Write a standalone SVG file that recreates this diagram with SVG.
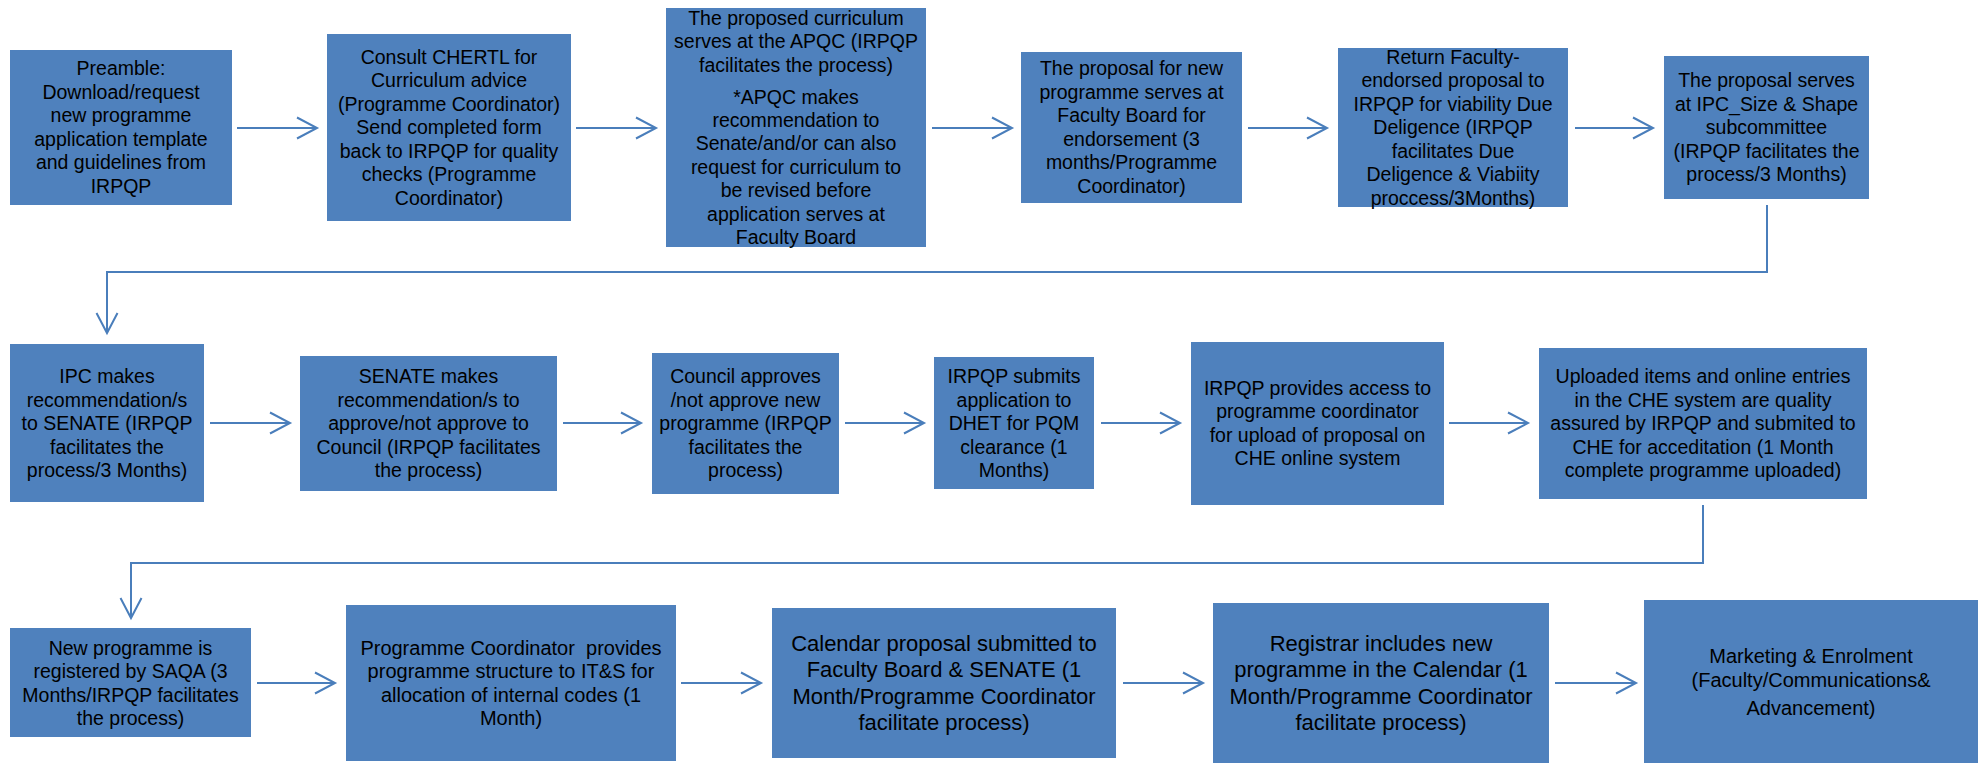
<svg xmlns="http://www.w3.org/2000/svg" width="1979" height="763" viewBox="0 0 1979 763">
<style>
.box{fill:#4F81BD;}
.t{font-family:"Liberation Sans",Arial,sans-serif;font-size:19.5px;fill:#000;text-anchor:middle;}
.t22{font-size:22px;}
.t20{font-size:20px;}
.c{fill:none;stroke:#4A7EBB;stroke-width:2;}
</style>
<defs>
<marker id="ah" markerUnits="userSpaceOnUse" markerWidth="30" markerHeight="30" viewBox="-25 -15 30 30" refX="0" refY="0" orient="auto">
<path d="M-20,-10.5 L0,0 L-20,10.5" fill="none" stroke="#4A7EBB" stroke-width="2"/>
</marker>
</defs>
<rect width="1979" height="763" fill="#fff"/>

<g id="connectors">
<line class="c" x1="237" y1="128" x2="317" y2="128" marker-end="url(#ah)"/>
<line class="c" x1="576" y1="128" x2="656" y2="128" marker-end="url(#ah)"/>
<line class="c" x1="932" y1="128" x2="1012" y2="128" marker-end="url(#ah)"/>
<line class="c" x1="1248" y1="128" x2="1327" y2="128" marker-end="url(#ah)"/>
<line class="c" x1="1575" y1="128" x2="1653" y2="128" marker-end="url(#ah)"/>
<polyline class="c" points="1767,205 1767,272 107,272 107,333" marker-end="url(#ah)"/>
<line class="c" x1="210" y1="423" x2="290" y2="423" marker-end="url(#ah)"/>
<line class="c" x1="563" y1="423" x2="641" y2="423" marker-end="url(#ah)"/>
<line class="c" x1="845" y1="423" x2="924" y2="423" marker-end="url(#ah)"/>
<line class="c" x1="1101" y1="423" x2="1180" y2="423" marker-end="url(#ah)"/>
<line class="c" x1="1449" y1="423" x2="1528" y2="423" marker-end="url(#ah)"/>
<polyline class="c" points="1703,505 1703,563 131,563 131,618" marker-end="url(#ah)"/>
<line class="c" x1="257" y1="683" x2="335" y2="683" marker-end="url(#ah)"/>
<line class="c" x1="681" y1="683" x2="761" y2="683" marker-end="url(#ah)"/>
<line class="c" x1="1123" y1="683" x2="1203" y2="683" marker-end="url(#ah)"/>
<line class="c" x1="1555" y1="683" x2="1636" y2="683" marker-end="url(#ah)"/>
</g>

<g id="n1"><rect class="box" x="10" y="50" width="222" height="155"/>
<text class="t"><tspan x="121" y="75">Preamble:</tspan><tspan x="121" y="98.5">Download/request</tspan><tspan x="121" y="122">new programme</tspan><tspan x="121" y="145.5">application template</tspan><tspan x="121" y="169">and guidelines from</tspan><tspan x="121" y="192.5">IRPQP</tspan></text></g>

<g id="n2"><rect class="box" x="327" y="34" width="244" height="187"/>
<text class="t"><tspan x="449" y="63.5">Consult CHERTL for</tspan><tspan x="449" y="87">Curriculum advice</tspan><tspan x="449" y="110.5">(Programme Coordinator)</tspan><tspan x="449" y="134">Send completed form</tspan><tspan x="449" y="157.5">back to IRPQP for quality</tspan><tspan x="449" y="181">checks (Programme</tspan><tspan x="449" y="204.5">Coordinator)</tspan></text></g>

<g id="n3"><rect class="box" x="666" y="8" width="260" height="239"/>
<text class="t"><tspan x="796" y="24.5">The proposed curriculum</tspan><tspan x="796" y="48">serves at the APQC (IRPQP</tspan><tspan x="796" y="71.5">facilitates the process)</tspan><tspan x="796" y="103.5">*APQC makes</tspan><tspan x="796" y="127">recommendation to</tspan><tspan x="796" y="150.4">Senate/and/or can also</tspan><tspan x="796" y="173.8">request for curriculum to</tspan><tspan x="796" y="197.2">be revised before</tspan><tspan x="796" y="220.6">application serves at</tspan><tspan x="796" y="244">Faculty Board</tspan></text></g>

<g id="n4"><rect class="box" x="1021" y="52" width="221" height="151"/>
<text class="t"><tspan x="1131.5" y="75">The proposal for new</tspan><tspan x="1131.5" y="98.5">programme serves at</tspan><tspan x="1131.5" y="122">Faculty Board for</tspan><tspan x="1131.5" y="145.5">endorsement (3</tspan><tspan x="1131.5" y="169">months/Programme</tspan><tspan x="1131.5" y="192.5">Coordinator)</tspan></text></g>

<g id="n5"><rect class="box" x="1338" y="48" width="230" height="159"/>
<text class="t"><tspan x="1453" y="63.5">Return Faculty-</tspan><tspan x="1453" y="87">endorsed proposal to</tspan><tspan x="1453" y="110.5">IRPQP for viability Due</tspan><tspan x="1453" y="134">Deligence (IRPQP</tspan><tspan x="1453" y="157.5">facilitates Due</tspan><tspan x="1453" y="181">Deligence &amp; Viabiity</tspan><tspan x="1453" y="204.5">proccess/3Months)</tspan></text></g>

<g id="n6"><rect class="box" x="1664" y="56" width="205" height="143"/>
<text class="t"><tspan x="1766.5" y="87">The proposal serves</tspan><tspan x="1766.5" y="110.5">at IPC_Size &amp; Shape</tspan><tspan x="1766.5" y="134">subcommittee</tspan><tspan x="1766.5" y="157.5">(IRPQP facilitates the</tspan><tspan x="1766.5" y="181">process/3 Months)</tspan></text></g>

<g id="n7"><rect class="box" x="10" y="344" width="194" height="158"/>
<text class="t"><tspan x="107" y="383">IPC makes</tspan><tspan x="107" y="406.5">recommendation/s</tspan><tspan x="107" y="430">to SENATE (IRPQP</tspan><tspan x="107" y="453.5">facilitates the</tspan><tspan x="107" y="477">process/3 Months)</tspan></text></g>

<g id="n8"><rect class="box" x="300" y="356" width="257" height="135"/>
<text class="t"><tspan x="428.5" y="383">SENATE makes</tspan><tspan x="428.5" y="406.5">recommendation/s to</tspan><tspan x="428.5" y="430">approve/not approve to</tspan><tspan x="428.5" y="453.5">Council (IRPQP facilitates</tspan><tspan x="428.5" y="477">the process)</tspan></text></g>

<g id="n9"><rect class="box" x="652" y="353" width="187" height="141"/>
<text class="t"><tspan x="745.5" y="383">Council approves</tspan><tspan x="745.5" y="406.5">/not approve new</tspan><tspan x="745.5" y="430">programme (IRPQP</tspan><tspan x="745.5" y="453.5">facilitates the</tspan><tspan x="745.5" y="477">process)</tspan></text></g>

<g id="n10"><rect class="box" x="934" y="357" width="160" height="132"/>
<text class="t"><tspan x="1014" y="383">IRPQP submits</tspan><tspan x="1014" y="406.5">application to</tspan><tspan x="1014" y="430">DHET for PQM</tspan><tspan x="1014" y="453.5">clearance (1</tspan><tspan x="1014" y="477">Months)</tspan></text></g>

<g id="n11"><rect class="box" x="1191" y="342" width="253" height="163"/>
<text class="t"><tspan x="1317.5" y="394.5">IRPQP provides access to</tspan><tspan x="1317.5" y="418">programme coordinator</tspan><tspan x="1317.5" y="441.5">for upload of proposal on</tspan><tspan x="1317.5" y="465">CHE online system</tspan></text></g>

<g id="n12"><rect class="box" x="1539" y="348" width="328" height="151"/>
<text class="t"><tspan x="1703" y="383">Uploaded items and online entries</tspan><tspan x="1703" y="406.5">in the CHE system are quality</tspan><tspan x="1703" y="430">assured by IRPQP and submited to</tspan><tspan x="1703" y="453.5">CHE for acceditation (1 Month</tspan><tspan x="1703" y="477">complete programme uploaded)</tspan></text></g>

<g id="n13"><rect class="box" x="10" y="628" width="241" height="109"/>
<text class="t"><tspan x="130.5" y="654.5">New programme is</tspan><tspan x="130.5" y="678">registered by SAQA (3</tspan><tspan x="130.5" y="701.5">Months/IRPQP facilitates</tspan><tspan x="130.5" y="725">the process)</tspan></text></g>

<g id="n14"><rect class="box" x="346" y="605" width="330" height="156"/>
<text class="t t20" xml:space="preserve"><tspan x="511" y="654.5">Programme Coordinator  provides</tspan><tspan x="511" y="678">programme structure to IT&amp;S for</tspan><tspan x="511" y="701.5">allocation of internal codes (1</tspan><tspan x="511" y="725">Month)</tspan></text></g>

<g id="n15"><rect class="box" x="772" y="608" width="344" height="150"/>
<text class="t t22"><tspan x="944" y="650.5">Calendar proposal submitted to</tspan><tspan x="944" y="677">Faculty Board &amp; SENATE (1</tspan><tspan x="944" y="703.5">Month/Programme Coordinator</tspan><tspan x="944" y="730">facilitate process)</tspan></text></g>

<g id="n16"><rect class="box" x="1213" y="603" width="336" height="160"/>
<text class="t t22"><tspan x="1381" y="650.5">Registrar includes new</tspan><tspan x="1381" y="677">programme in the Calendar (1</tspan><tspan x="1381" y="703.5">Month/Programme Coordinator</tspan><tspan x="1381" y="730">facilitate process)</tspan></text></g>

<g id="n17"><rect class="box" x="1644" y="600" width="334" height="163"/>
<text class="t t20"><tspan x="1811" y="663">Marketing &amp; Enrolment</tspan><tspan x="1811" y="687">(Faculty/Communications&amp;</tspan><tspan x="1811" y="715">Advancement)</tspan></text></g>
</svg>
